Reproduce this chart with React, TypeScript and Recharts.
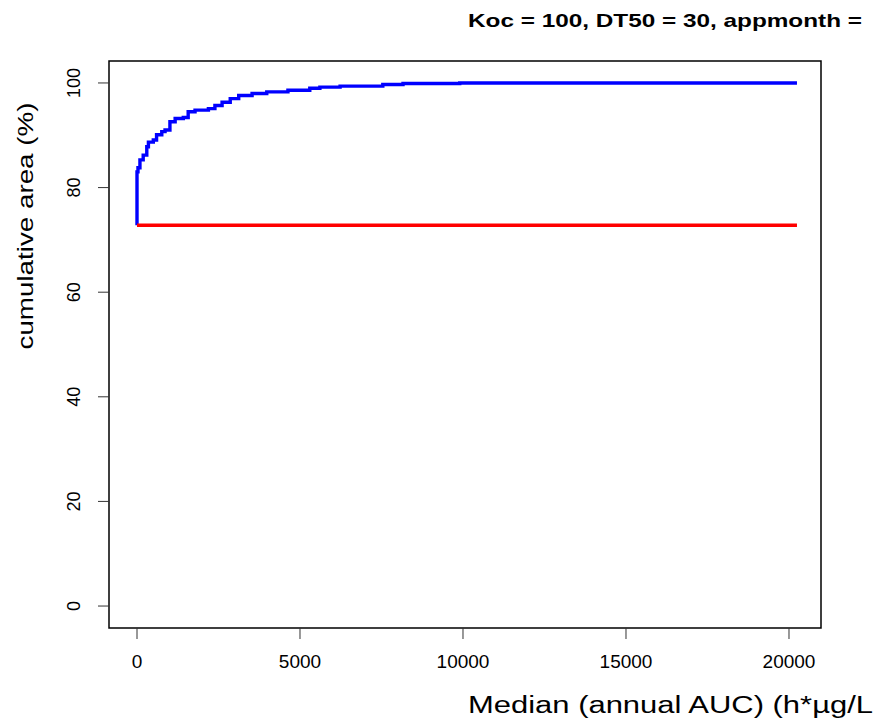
import React from 'react'
import { LineChart, Line, XAxis, YAxis, ReferenceArea } from 'recharts'

const FONT = '"Liberation Sans", Arial, Helvetica, sans-serif'

// blue: cumulative area curve (step)
const blueX = [0, 0, 30, 90, 190, 300, 350, 500, 600, 760, 860, 1010, 1170, 1420, 1570, 1780, 2190, 2390, 2610, 2860, 3120, 3530, 3980, 4630, 5300, 5610, 6230, 7540, 8160, 9900, 20245]
const blueY = [72.8, 83.0, 83.8, 85.3, 86.2, 87.8, 88.7, 89.1, 90.1, 90.7, 91.0, 92.6, 93.2, 93.4, 94.5, 94.8, 95.1, 95.7, 96.3, 97.0, 97.6, 98.0, 98.3, 98.6, 99.0, 99.2, 99.4, 99.7, 99.9, 100, 100]

// red: flat reference level
const redX = [0, 20245]
const redY = [72.8, 72.8]

const xTicks = [0, 5000, 10000, 15000, 20000]
const yTicks = [0, 20, 40, 60, 80, 100]

const xDomain = [-859, 20982]
const yDomain = [-4.2, 104.2]

const blueData = blueX.map((x, i) => ({ x, y: blueY[i] }))
const redData = redX.map((x, i) => ({ x, y: redY[i] }))

function XTick(props: any) {
  const { x, payload } = props
  return (
    <text x={x} y={668} textAnchor="middle" fontSize={19} fontFamily={FONT} fill="#000">
      {payload.value}
    </text>
  )
}

function YTick(props: any) {
  const { y, payload } = props
  return (
    <text
      x={80}
      y={y}
      transform={`rotate(-90, 80, ${y})`}
      textAnchor="middle"
      fontSize={18}
      fontFamily={FONT}
      fill="#000"
    >
      {payload.value}
    </text>
  )
}

export default function App() {
  return (
    <div style={{ position: 'absolute', left: 0, top: 0, width: 875, height: 722, background: '#fff' }}>
      <LineChart
        width={875}
        height={722}
        margin={{ top: 61, right: 54, left: 49, bottom: 54 }}
      >
        <XAxis
          type="number"
          dataKey="x"
          domain={xDomain}
          ticks={xTicks}
          allowDataOverflow
          axisLine={false}
          tickLine={{ stroke: '#333' }}
          tickSize={11}
          height={40}
          tick={<XTick />}
        />
        <YAxis
          type="number"
          dataKey="y"
          domain={yDomain}
          ticks={yTicks}
          allowDataOverflow
          axisLine={false}
          tickLine={{ stroke: '#333' }}
          tickSize={11}
          width={60}
          tick={<YTick />}
        />
        <ReferenceArea
          x1={xDomain[0]}
          x2={xDomain[1]}
          y1={yDomain[0]}
          y2={yDomain[1]}
          fill="none"
          fillOpacity={0}
          stroke="#000"
          strokeWidth={1.5}
        />
        <Line
          data={blueData}
          dataKey="y"
          type="stepAfter"
          stroke="#0000ff"
          strokeWidth={3.4}
          dot={false}
          isAnimationActive={false}
        />
        <Line
          data={redData}
          dataKey="y"
          type="linear"
          stroke="#ff0000"
          strokeWidth={3.4}
          dot={false}
          isAnimationActive={false}
        />
      </LineChart>
      <svg
        width={875}
        height={722}
        style={{ position: 'absolute', left: 0, top: 0, pointerEvents: 'none' }}
      >
        <text x={468} y={27} fontSize={19} fontWeight="bold" fontFamily={FONT} textLength={394} lengthAdjust="spacingAndGlyphs" fill="#000">
          Koc = 100, DT50 = 30, appmonth =
        </text>
        <text x={468} y={713} fontSize={23.5} fontFamily={FONT} textLength={405} lengthAdjust="spacingAndGlyphs" fill="#000">
          Median (annual AUC) (h*µg/L
        </text>
        <text
          x={33}
          y={226}
          transform="rotate(-90, 33, 226)"
          textAnchor="middle"
          fontSize={22}
          fontFamily={FONT}
          textLength={247}
          lengthAdjust="spacingAndGlyphs"
          fill="#000"
        >
          cumulative area (%)
        </text>
      </svg>
    </div>
  )
}
